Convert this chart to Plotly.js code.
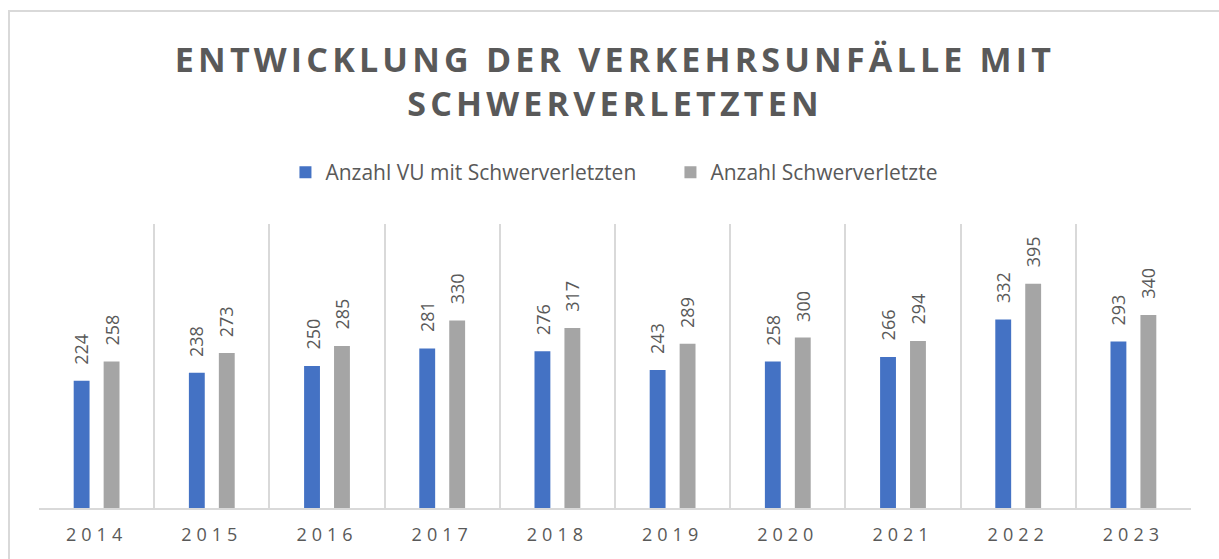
<!DOCTYPE html>
<html>
<head>
<meta charset="utf-8">
<script src="https://cdn.plot.ly/plotly-3.0.1.min.js"></script>
<style>
  html, body { margin: 0; padding: 0; background: #fff; }
  #frame { position: absolute; left: 8px; top: 10px; width: 1300px; height: 600px;
           border-left: 2px solid #d9d9d9; border-top: 2px solid #d9d9d9; }
  #chart { position: absolute; left: 0; top: 0; width: 1219px; height: 559px; }
  #chart .xtick text { letter-spacing: 5px; }
  #chart .gtitle { letter-spacing: 4.2px; }
</style>
</head>
<body>
<div id="frame"></div>
<div id="chart"></div>
<script>
const years = ['2014','2015','2016','2017','2018','2019','2020','2021','2022','2023'];
const accidents = [224, 238, 250, 281, 276, 243, 258, 266, 332, 293];
const injured = [258, 273, 285, 330, 317, 289, 300, 294, 395, 340];
const seriesNames = ['Anzahl VU mit Schwerverletzten', 'Anzahl Schwerverletzte'];
const titleLines = ['ENTWICKLUNG DER VERKEHRSUNFÄLLE MIT', 'SCHWERVERLETZTEN'];

const blue = '#4472C4', grey = '#A5A5A5', textGrey = '#595959';
const font = 'Open Sans, Noto Sans, sans-serif';

const traces = [
  { type: 'bar', x: years, y: accidents, name: seriesNames[0], marker: { color: blue }, hoverinfo: 'x+y' },
  { type: 'bar', x: years, y: injured, name: seriesNames[1], marker: { color: grey }, hoverinfo: 'x+y' }
];

const annotations = [];
[[accidents, -15], [injured, 15]].forEach(([vals, dx]) => {
  vals.forEach((v, i) => {
    annotations.push({
      x: i, y: v, xref: 'x', yref: 'y', text: String(v), showarrow: false,
      textangle: -90, xanchor: 'center', yanchor: 'bottom', xshift: dx, yshift: 14,
      font: { family: font, size: 18, color: textGrey }
    });
  });
});

const layout = {
  width: 1219, height: 559,
  paper_bgcolor: 'rgba(0,0,0,0)', plot_bgcolor: 'rgba(0,0,0,0)',
  margin: { l: 39, r: 28, t: 224, b: 51 },
  title: {
    text: '<b>' + titleLines.join('<br>') + '</b>',
    font: { family: font, size: 34, color: textGrey },
    x: 0.5045, xref: 'container', xanchor: 'center',
    y: 1 - 72 / 559, yref: 'container', yanchor: 'top'
  },
  barmode: 'group', bargap: 0.48, bargroupgap: 0.47,
  showlegend: true,
  legend: {
    orientation: 'h', xref: 'container', yref: 'container',
    x: 0.550, xanchor: 'center', y: 1 - 152 / 559, yanchor: 'top',
    entrywidth: 340,
    font: { family: font, size: 21, color: textGrey }, traceorder: 'normal'
  },
  xaxis: {
    type: 'category', tickson: 'boundaries', showgrid: true, gridcolor: '#d9d9d9', gridwidth: 2,
    showline: true, linecolor: '#d9d9d9', linewidth: 2, ticks: '', zeroline: false,
    tickfont: { family: font, size: 18, color: textGrey }, ticklabelstandoff: 9, fixedrange: true
  },
  yaxis: { range: [0, 500], visible: false, showgrid: false, zeroline: false, fixedrange: true },
  annotations: annotations
};

Plotly.newPlot('chart', traces, layout, { displayModeBar: false, staticPlot: true });
</script>
</body>
</html>
